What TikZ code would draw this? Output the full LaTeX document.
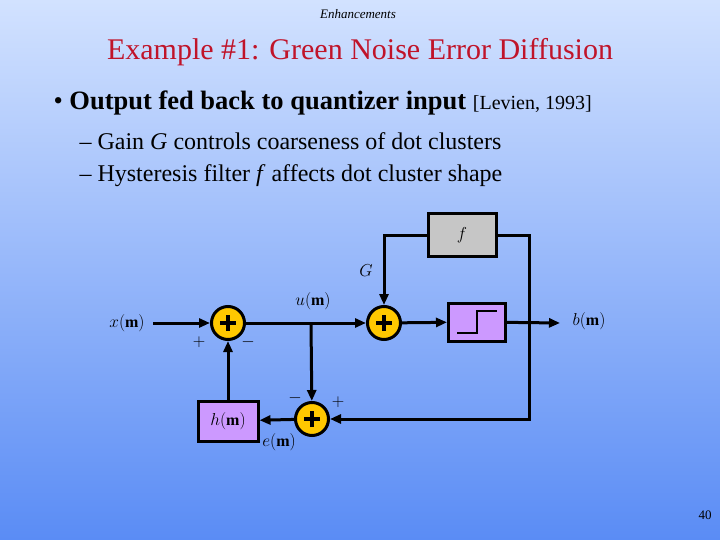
\documentclass[tikz,border=0pt]{standalone}
\usepackage{fontspec}
\setmainfont{Liberation Serif}
\usetikzlibrary{arrows.meta}
\definecolor{titlered}{HTML}{C0142A}
\definecolor{sumyel}{HTML}{FFC800}
\definecolor{purp}{HTML}{CC99FF}
\definecolor{bgtop}{HTML}{D2E2FF}
\definecolor{bgbot}{HTML}{5A8CF5}
\begin{document}
\begin{tikzpicture}[x=1pt,y=-1pt,
  sumnode/.style={circle,draw=black,line width=3pt,fill=sumyel,minimum size=33pt,inner sep=0pt,
    path picture={\draw[line width=3.5pt] ([xshift=-8pt]path picture bounding box.center)--++(16pt,0)
      ([yshift=-8pt]path picture bounding box.center)--++(0,16pt);}},
  blk/.style={draw=black,line width=3pt,fill=purp},
  wire/.style={line width=3pt},
  arr/.style={wire,-{Triangle[length=11pt,width=9pt]}},
  lab/.style={font=\fontsize{16}{18}\selectfont}]
\shade[top color=bgtop,bottom color=bgbot] (0,0) rectangle (720,540);
\useasboundingbox (0,0) rectangle (720,540);
\node[font=\itshape\fontsize{13}{15}\selectfont] (hdr) at (358,14) {Enhancements};
\node[text=titlered,font=\fontsize{30}{33}\selectfont] (ttl) at (360,52) {Example \#1: Green Noise Error Diffusion};
\node[anchor=west,font=\fontsize{26.5}{30}\selectfont] (b1) at (50,103) {\textbullet\ \textbf{Output fed back to quantizer input} {\fontsize{20}{22}\selectfont[Levien, 1993]}};
\node[anchor=west,font=\fontsize{24}{28}\selectfont] (b2) at (76,141) {– Gain \textit{G} controls coarseness of dot clusters};
\node[anchor=west,font=\fontsize{24}{28}\selectfont] (b3) at (76,176) {– Hysteresis filter \textit{f} affects dot cluster shape};
\node[font=\fontsize{13}{15}\selectfont] (pg) at (705,515) {40};

\node[sumnode] (s1) at (228,323) {};
\node[sumnode] (s2) at (384,323) {};
\node[sumnode] (s3) at (312,419) {};
\node[blk,minimum width=57pt,minimum height=38pt] (q) at (477,322) {};
\draw[line width=2pt] (q.center)++(-20,11) -- ++(20,0) -- ++(0,-22) -- ++(20,0);
\node[draw=black,line width=3pt,fill=gray!45,minimum width=68pt,minimum height=43pt,lab] (f) at (462,235) {$f$};
\node[blk,minimum width=60pt,minimum height=40pt,lab] (h) at (228,421) {$h(\mathbf{m})$};

\node[lab] (xl) at (127,323) {$x(\mathbf{m})$};
\node[lab] (ul) at (313,301) {$u(\mathbf{m})$};
\node[lab] (bl) at (589,321) {$b(\mathbf{m})$};
\node[lab] (el) at (279,442) {$e(\mathbf{m})$};
\node[lab] (gl) at (366,271) {$G$};
\node[lab] (p1) at (199,342) {$+$};
\node[lab] (m1) at (248,342) {$-$};
\node[lab] (m3) at (295,398) {$-$};
\node[lab] (p3) at (338,402) {$+$};

\coordinate (xs) at (153,323);
\coordinate (jn) at (311,323);
\coordinate (bo) at (560,323);
\coordinate (fb) at (529,323);
\draw[arr] (xs) -- (s1);
\draw[arr] (s1) -- (s2);
\draw[arr] (jn) -- (s3);
\draw[arr] (s2) -- (q);
\draw[arr] (q) -- (bo);
\draw[arr] (f.west) -| (s2);
\draw[arr] (f.east) -| (fb) |- (s3);
\draw[arr] (s3) -- (h);
\draw[arr] (h) -- (s1);
\end{tikzpicture}
\end{document}
